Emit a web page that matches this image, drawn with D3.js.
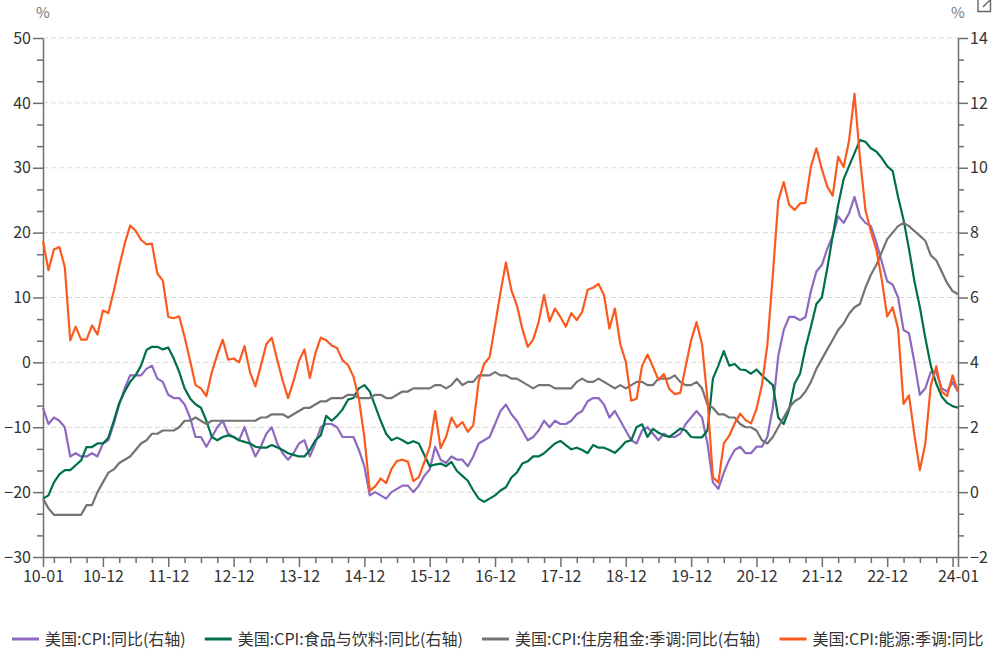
<!DOCTYPE html>
<html>
<head>
<meta charset="utf-8">
<script src="https://cdn.jsdelivr.net/npm/d3@7"></script>
<style>
  html, body { margin: 0; padding: 0; background: #fff; }
  svg { display: block; }
  text { font-family: "Noto Sans CJK SC", "Noto Sans", sans-serif; }
</style>
</head>
<body>
<svg id="chart" width="1000" height="658"></svg>
<script>
// ---------------- DATA ----------------
const startMonth = "2010-01";
const monthCount = 169; // 2010-01 .. 2024-01

const seriesNames = [
  "美国:CPI:同比(右轴)",
  "美国:CPI:食品与饮料:同比(右轴)",
  "美国:CPI:住房租金:季调:同比(右轴)",
  "美国:CPI:能源:季调:同比"
];
const seriesColors = ["#8d69c0", "#00704a", "#737373", "#fa5a1e"];

// 美国:CPI:同比 (right axis, %)
const cpi = [
  2.6, 2.1, 2.3, 2.2, 2.0, 1.1, 1.2, 1.1, 1.1, 1.2, 1.1, 1.5,
  1.6, 2.1, 2.7, 3.2, 3.6, 3.6, 3.6, 3.8, 3.9, 3.5, 3.4, 3.0,
  2.9, 2.9, 2.7, 2.3, 1.7, 1.7, 1.4, 1.7, 2.0, 2.2, 1.8, 1.7,
  1.6, 2.0, 1.5, 1.1, 1.4, 1.8, 2.0, 1.5, 1.2, 1.0, 1.2, 1.5,
  1.6, 1.1, 1.5, 2.0, 2.1, 2.1, 2.0, 1.7, 1.7, 1.7, 1.3, 0.8,
  -0.1, 0.0, -0.1, -0.2, 0.0, 0.1, 0.2, 0.2, 0.0, 0.2, 0.5, 0.7,
  1.4, 1.0, 0.9, 1.1, 1.0, 1.0, 0.8, 1.1, 1.5, 1.6, 1.7, 2.1,
  2.5, 2.7, 2.4, 2.2, 1.9, 1.6, 1.7, 1.9, 2.2, 2.0, 2.2, 2.1,
  2.1, 2.2, 2.4, 2.5, 2.8, 2.9, 2.9, 2.7, 2.3, 2.5, 2.2, 1.9,
  1.6, 1.5, 1.9, 2.0, 1.8, 1.6, 1.8, 1.7, 1.7, 1.8, 2.1, 2.3,
  2.5, 2.3, 1.5, 0.3, 0.1, 0.6, 1.0, 1.3, 1.4, 1.2, 1.2, 1.4,
  1.4, 1.7, 2.6, 4.2, 5.0, 5.4, 5.4, 5.3, 5.4, 6.2, 6.8, 7.0,
  7.5, 7.9, 8.5, 8.3, 8.6, 9.1, 8.5, 8.3, 8.2, 7.7, 7.1, 6.5,
  6.4, 6.0, 5.0, 4.9, 4.0, 3.0, 3.2, 3.7, 3.7, 3.2, 3.1, 3.4,
  3.1
];

// 美国:CPI:食品与饮料:同比 (right axis, %)
const food = [
  -0.2, -0.1, 0.3, 0.55, 0.68, 0.68, 0.83, 0.98, 1.39, 1.39, 1.5, 1.5,
  1.68, 2.2, 2.75, 3.1, 3.4, 3.6, 3.9, 4.38, 4.48, 4.48, 4.4, 4.46,
  4.12, 3.71, 3.2, 2.89, 2.71, 2.6, 2.2, 1.7, 1.6, 1.7, 1.75, 1.7,
  1.6, 1.55, 1.5, 1.4, 1.37, 1.37, 1.45, 1.38, 1.3, 1.2, 1.15, 1.1,
  1.1, 1.3, 1.6, 1.75, 2.35, 2.2, 2.35, 2.55, 2.85, 2.9, 3.2, 3.3,
  3.1, 2.65, 2.2, 1.8, 1.6, 1.68, 1.6, 1.5, 1.57, 1.5, 1.15, 0.8,
  0.85, 0.88, 0.8, 0.93, 0.65, 0.5, 0.35, 0.05, -0.2, -0.3, -0.2, -0.1,
  0.05, 0.15, 0.45, 0.6, 0.88, 0.95, 1.1, 1.1, 1.2, 1.35, 1.5, 1.58,
  1.45, 1.32, 1.37, 1.3, 1.2, 1.45, 1.37, 1.37, 1.3, 1.21, 1.37, 1.55,
  1.6, 2.01, 2.09, 1.7, 1.95, 1.83, 1.75, 1.7, 1.83, 1.96, 1.9, 1.7,
  1.69, 1.69, 1.9, 3.5, 3.9, 4.35, 3.9, 3.95, 3.78, 3.76, 3.65, 3.78,
  3.6, 3.45, 3.3, 2.3, 2.1, 2.55, 3.35, 3.65, 4.45, 5.1, 5.8, 6.0,
  6.9, 7.9, 8.85, 9.65, 10.05, 10.45, 10.85, 10.8, 10.6, 10.5, 10.3, 10.05,
  9.9, 9.1, 8.4, 7.5, 6.5, 5.7, 4.75, 3.9, 3.35, 2.95, 2.75, 2.65,
  2.6
];

// 美国:CPI:住房租金:季调:同比 (right axis, %)
const shelter = [
  -0.2, -0.5, -0.7, -0.7, -0.7, -0.7, -0.7, -0.7, -0.4, -0.4, 0.0, 0.3,
  0.6, 0.7, 0.9, 1.0, 1.1, 1.3, 1.5, 1.6, 1.8, 1.8, 1.9, 1.9,
  1.9, 2.0, 2.2, 2.2, 2.3, 2.2, 2.1, 2.2, 2.2, 2.2, 2.2, 2.2,
  2.2, 2.2, 2.2, 2.2, 2.3, 2.3, 2.4, 2.4, 2.4, 2.3, 2.4, 2.5,
  2.6, 2.6, 2.7, 2.8, 2.8, 2.9, 2.9, 2.9, 3.0, 3.0, 2.9, 2.9,
  2.9, 3.0, 3.0, 2.9, 2.9, 3.0, 3.1, 3.1, 3.2, 3.2, 3.2, 3.2,
  3.3, 3.3, 3.2, 3.3, 3.5, 3.3, 3.4, 3.4, 3.6, 3.6, 3.6, 3.7,
  3.6, 3.6, 3.5, 3.5, 3.4, 3.3, 3.2, 3.3, 3.3, 3.3, 3.2, 3.2,
  3.2, 3.2, 3.4, 3.5, 3.4, 3.4, 3.5, 3.4, 3.3, 3.2, 3.3, 3.2,
  3.3, 3.4, 3.4, 3.3, 3.3, 3.5, 3.5, 3.5, 3.6, 3.4, 3.3, 3.3,
  3.4, 3.2, 2.7, 2.6, 2.4, 2.4, 2.3, 2.3, 2.1, 2.0, 2.0, 1.9,
  1.6, 1.5, 1.7, 2.0, 2.3, 2.6, 2.8, 2.9, 3.1, 3.4, 3.8, 4.1,
  4.4, 4.7, 5.0, 5.2, 5.5, 5.7, 5.8, 6.3, 6.7, 7.0, 7.4, 7.8,
  8.0, 8.2, 8.3, 8.2, 8.05, 7.9, 7.75, 7.3, 7.15, 6.8, 6.45, 6.2,
  6.1
];

// 美国:CPI:能源:季调:同比 (left axis, %)
const energy = [
  18.7, 14.2, 17.4, 17.8, 14.7, 3.4, 5.5, 3.5, 3.5, 5.7, 4.3, 8.0,
  7.6, 11.0, 14.8, 18.3, 21.1, 20.3, 18.9, 18.2, 18.3, 13.7, 12.6, 7.0,
  6.8, 7.1, 3.9, 0.3, -3.5, -4.0, -5.2, -1.5, 1.2, 3.5, 0.4, 0.6,
  0.0, 2.5, -1.5, -3.7, -0.5, 2.8, 3.8, 0.4, -2.8, -5.5, -2.9, 0.2,
  2.0, -2.4, 1.4, 3.8, 3.4, 2.6, 2.2, 0.3, -0.4, -2.2, -5.6, -11.5,
  -19.8, -19.1, -17.9, -18.6, -16.4, -15.2, -15.0, -15.3, -18.3, -17.7, -15.4, -13.0,
  -7.5, -13.2, -11.5, -8.5, -10.0, -9.2, -10.7, -9.7, -2.9, -0.2, 0.8, 5.7,
  10.8, 15.4, 11.1, 8.8, 5.2, 2.4, 3.5, 6.2, 10.4, 6.3, 8.3, 7.0,
  5.5, 7.6, 6.5, 7.8, 11.2, 11.5, 12.1, 10.4, 5.2, 8.3, 2.8, 0.1,
  -5.9, -5.6, -0.5, 1.2, -0.7, -2.7, -1.8, -4.1, -4.9, -4.7, -0.6, 3.4,
  6.2, 2.8, -5.7, -17.7, -18.5, -12.5, -11.3, -9.4, -7.9, -8.9, -9.4, -7.2,
  -3.5, 2.7, 13.5, 24.9, 27.8, 24.3, 23.5, 24.5, 24.6, 30.2, 33.0, 29.8,
  27.1, 25.7, 31.7, 30.1, 34.2, 41.4, 31.5, 23.5, 20.2, 17.4, 12.8, 7.1,
  8.5, 5.2, -6.4, -5.1, -11.2, -16.6, -12.5, -3.6, -0.6, -4.5, -5.2, -2.0,
  -4.5
];

// axis ticks
const leftTicks = [-30, -20, -10, 0, 10, 20, 30, 40, 50];
const rightTicks = [-2, 0, 2, 4, 6, 8, 10, 12, 14];
const xTickLabels = ["10-01","10-12","11-12","12-12","13-12","14-12","15-12","16-12",
                     "17-12","18-12","19-12","20-12","21-12","22-12","","24-01"];
const xTickMonths = ["2010-01","2010-12","2011-12","2012-12","2013-12","2014-12","2015-12","2016-12",
                     "2017-12","2018-12","2019-12","2020-12","2021-12","2022-12","2023-12","2024-01"];

// ---------------- CHART ----------------
const W = 1000, H = 658;
const M = { left: 43, right: 958, top: 38, bottom: 557 };
const svg = d3.select("#chart");

const parseM = d3.timeParse("%Y-%m");
const t0 = parseM(startMonth);
const months = d3.range(monthCount).map(i => d3.timeMonth.offset(t0, i));
const idxOf = s => d3.timeMonth.count(t0, parseM(s));

const x = d3.scaleLinear().domain([0, monthCount - 1]).range([M.left, M.right]);
const yL = d3.scaleLinear().domain([-30, 50]).range([M.bottom, M.top]);
const yR = d3.scaleLinear().domain([-2, 14]).range([M.bottom, M.top]);

// gridlines
svg.append("g").selectAll("line")
  .data(leftTicks.filter(v => v > -30))
  .join("line")
  .attr("x1", M.left).attr("x2", M.right)
  .attr("y1", d => yL(d)).attr("y2", d => yL(d))
  .attr("stroke", "#d9d9d9").attr("stroke-width", 1)
  .attr("stroke-dasharray", "5,3");

const axisColor = "#6e6e6e";
function styleAxis(g) {
  g.selectAll("path.domain").attr("stroke", axisColor).attr("stroke-width", 1.5);
  g.selectAll(".tick line").attr("stroke", axisColor).attr("stroke-width", 1.5);
  g.selectAll(".tick text").attr("fill", "#333").style("font-size", "16px")
    .style("font-family", "'Noto Sans CJK SC', 'Noto Sans', sans-serif");
}

// minor ticks (thirds)
const minorL = [];
for (let i = 0; i < leftTicks.length - 1; i++) {
  const a = leftTicks[i], b = leftTicks[i + 1];
  minorL.push(a + (b - a) / 3, a + 2 * (b - a) / 3);
}
const minorR = [];
for (let i = 0; i < rightTicks.length - 1; i++) {
  const a = rightTicks[i], b = rightTicks[i + 1];
  minorR.push(a + (b - a) / 3, a + 2 * (b - a) / 3);
}

svg.append("g").attr("transform", `translate(${M.left},0)`)
  .call(d3.axisLeft(yL).tickValues(minorL).tickSize(6).tickFormat("").tickSizeOuter(0))
  .call(g => g.select(".domain").remove())
  .call(styleAxis);
svg.append("g").attr("transform", `translate(${M.left},0)`)
  .call(d3.axisLeft(yL).tickValues(leftTicks).tickSize(10).tickPadding(2).tickSizeOuter(0))
  .call(styleAxis);

svg.append("g").attr("transform", `translate(${M.right},0)`)
  .call(d3.axisRight(yR).tickValues(minorR).tickSize(6).tickFormat("").tickSizeOuter(0))
  .call(g => g.select(".domain").remove())
  .call(styleAxis);
svg.append("g").attr("transform", `translate(${M.right},0)`)
  .call(d3.axisRight(yR).tickValues(rightTicks).tickSize(10).tickPadding(2).tickSizeOuter(0))
  .call(styleAxis);

// x axis
const majorIdx = xTickMonths.map(idxOf);
const minorIdx = d3.range(monthCount).filter(i => {
  const mo = months[i].getMonth();
  return (mo === 2 || mo === 5 || mo === 8) ;
});
svg.append("g").attr("transform", `translate(0,${M.bottom})`)
  .call(d3.axisBottom(x).tickValues(minorIdx).tickSize(6).tickFormat("").tickSizeOuter(0))
  .call(g => g.select(".domain").remove())
  .call(styleAxis);
svg.append("g").attr("transform", `translate(0,${M.bottom})`)
  .call(d3.axisBottom(x).tickValues(majorIdx).tickSize(10).tickPadding(4).tickSizeOuter(0)
    .tickFormat((d, i) => xTickLabels[i]))
  .call(styleAxis);

// unit labels
svg.append("text").attr("x", M.left).attr("y", 18).attr("text-anchor", "middle")
  .attr("fill", "#777").style("font-size", "15px").text("%");
svg.append("text").attr("x", M.right).attr("y", 18).attr("text-anchor", "middle")
  .attr("fill", "#777").style("font-size", "15px").text("%");

// top-right icon
svg.append("path")
  .attr("d", "M978,-1 V11.5 H990.5 V-1 M983,7 L990,0")
  .attr("fill", "none").attr("stroke", "#666").attr("stroke-width", 1.4);

// lines
const seriesData = [
  { vals: cpi, y: yR },
  { vals: food, y: yR },
  { vals: shelter, y: yR },
  { vals: energy, y: yL }
];
seriesData.forEach((s, k) => {
  const line = d3.line().x((d, i) => x(i)).y(d => s.y(d)).curve(d3.curveLinear);
  svg.append("path").datum(s.vals)
    .attr("d", line)
    .attr("fill", "none")
    .attr("stroke", seriesColors[k])
    .attr("stroke-width", 2.2)
    .attr("stroke-linejoin", "round");
});

// legend
const legend = svg.append("g");
let lx = 12;
const ly = 639;
seriesNames.forEach((name, k) => {
  legend.append("line")
    .attr("x1", lx).attr("x2", lx + 27).attr("y1", ly).attr("y2", ly)
    .attr("stroke", seriesColors[k]).attr("stroke-width", 3);
  const t = legend.append("text")
    .attr("x", lx + 33).attr("y", ly).attr("dy", "0.35em")
    .attr("fill", "#333").style("font-size", "16px").text(name);
  const w = t.node().getComputedTextLength();
  lx = lx + 33 + w + 19;
});
</script>
</body>
</html>
